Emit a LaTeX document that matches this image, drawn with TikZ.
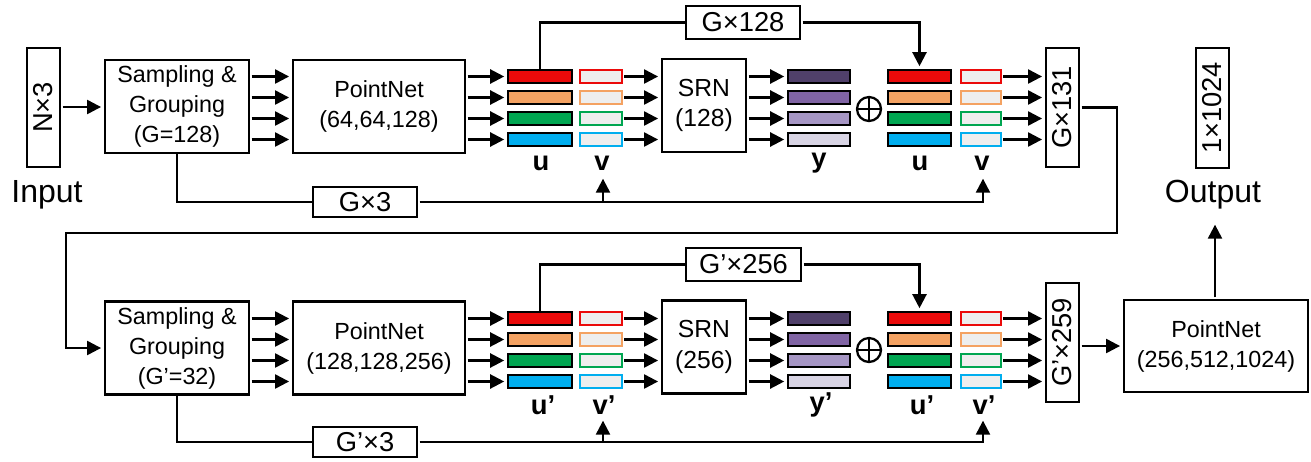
\documentclass[tikz,border=0pt]{standalone}
\usepackage{fontspec}
\setmainfont{Liberation Sans}
\usetikzlibrary{arrows.meta,calc}
\definecolor{cr}{RGB}{235,10,10}
\definecolor{co}{RGB}{244,162,98}
\definecolor{cg}{RGB}{0,166,81}
\definecolor{cb}{RGB}{0,174,239}
\definecolor{pa}{RGB}{80,64,106}
\definecolor{pb}{RGB}{128,100,164}
\definecolor{pc}{RGB}{166,150,196}
\definecolor{pd}{RGB}{216,212,228}
\definecolor{vfill}{RGB}{238,238,238}
\begin{document}
\begin{tikzpicture}[x=0.75pt,y=-0.75pt,
  box/.style={draw, line width=1.9pt, inner sep=0pt, align=center, fill=white,
    font=\fontsize{17.5}{22.5}\selectfont},
  dim/.style={draw, line width=1.9pt, inner sep=0pt, align=center, fill=white,
    font=\fontsize{20.5}{24}\selectfont},
  sz/.style 2 args={minimum width=#1*0.75pt, minimum height=#2*0.75pt},
  bar/.style={draw, line width=1.7pt, inner sep=0pt, minimum height=13*0.75pt},
  lbl/.style={inner sep=0pt, font=\fontsize{20.5}{22}\selectfont\bfseries},
  big/.style={inner sep=0pt, font=\fontsize{24}{26}\selectfont},
  ln/.style={line width=1.7pt},
  arr/.style={line width=1.7pt, -{Triangle[length=10.5pt,width=10.5pt]}, shorten >=2pt, shorten <=1pt},
  oplus/.style={circle, draw, line width=1.7pt, minimum size=24*0.75pt, inner sep=0pt,
    path picture={\draw[line width=1.7pt] (path picture bounding box.north) -- (path picture bounding box.south)
      (path picture bounding box.west) -- (path picture bounding box.east);}}
]
\useasboundingbox (0,0) rectangle (1311,461);

% ---------- top row ----------
\node[dim, sz={33}{119}] (n3) at (43.5,107.5) {\rotatebox{90}{N×3}};
\node[big] (inp) at (47,195) {Input};
\node[box, sz={144}{93}] (sg1) at (177,106.5) {Sampling \&\\Grouping\\(G=128)};
\node[box, sz={172}{93}] (pn1) at (379,106.5) {PointNet\\(64,64,128)};
\node[box, sz={84}{93}, font=\fontsize{18.5}{23}\selectfont] (srn1) at (704,105.5) {SRN\\(128)};
\node[dim, sz={33}{119}] (g131) at (1062.5,107.5) {\rotatebox{90}{G×131}};
\node[dim, sz={33}{120}] (o1024) at (1212.5,108) {\rotatebox{90}{1×1024}};
\node[big] (outl) at (1213,195) {Output};
\node[dim, sz={114}{33}] (g128) at (743,22.5) {G×128};
\node[dim, sz={104}{30}] (g3) at (365,202) {G×3};
\node[oplus] (op1) at (869,109) {};

% ---------- bottom row ----------
\node[box, sz={144}{93}] (sg2) at (177,348) {Sampling \&\\Grouping\\(G’=32)};
\node[box, sz={172}{93}] (pn2) at (379,348) {PointNet\\(128,128,256)};
\node[box, sz={84}{93}, font=\fontsize{18.5}{23}\selectfont] (srn2) at (704,347) {SRN\\(256)};
\node[dim, sz={33}{119}] (g259) at (1062.5,342.5) {\rotatebox{90}{G’×259}};
\node[box, sz={184}{92}] (pn3) at (1216,346) {PointNet\\(256,512,1024)};
\node[dim, sz={115}{33}] (g256) at (743.5,264.5) {G’×256};
\node[dim, sz={104}{30}] (g3b) at (365,442) {G’×3};
\node[oplus] (op2) at (869,350) {};

% ---------- bars and row arrows ----------
\foreach \i/\c/\p [evaluate=\i as \yt using 76.5+21*(\i-1), evaluate=\i as \yb using 318.5+21*(\i-1)]
  in {1/cr/pa,2/co/pb,3/cg/pc,4/cb/pd} {
  \node[bar, fill=\c, minimum width=64*0.75pt] (ua\i) at (540,\yt) {};
  \node[bar, fill=vfill, draw=\c, minimum width=42*0.75pt] (va\i) at (601,\yt) {};
  \node[bar, fill=\p, minimum width=62*0.75pt] (ya\i) at (819,\yt) {};
  \node[bar, fill=\c, minimum width=63*0.75pt] (ub\i) at (919.5,\yt) {};
  \node[bar, fill=vfill, draw=\c, minimum width=40*0.75pt] (vb\i) at (981,\yt) {};
  \node[bar, fill=\c, minimum width=64*0.75pt] (uc\i) at (540,\yb) {};
  \node[bar, fill=vfill, draw=\c, minimum width=42*0.75pt] (vc\i) at (601,\yb) {};
  \node[bar, fill=\p, minimum width=62*0.75pt] (yc\i) at (819,\yb) {};
  \node[bar, fill=\c, minimum width=63*0.75pt] (ud\i) at (919.5,\yb) {};
  \node[bar, fill=vfill, draw=\c, minimum width=40*0.75pt] (vd\i) at (981,\yb) {};
  \draw[arr] (sg1.east |- ua\i) -- (pn1.west |- ua\i);
  \draw[arr] (pn1.east |- ua\i) -- (ua\i.west);
  \draw[arr] (va\i.east) -- (srn1.west |- va\i);
  \draw[arr] (srn1.east |- ya\i) -- (ya\i.west);
  \draw[arr] (vb\i.east) -- (g131.west |- vb\i);
  \draw[arr] (sg2.east |- uc\i) -- (pn2.west |- uc\i);
  \draw[arr] (pn2.east |- uc\i) -- (uc\i.west);
  \draw[arr] (vc\i.east) -- (srn2.west |- vc\i);
  \draw[arr] (srn2.east |- yc\i) -- (yc\i.west);
  \draw[arr] (vd\i.east) -- (g259.west |- vd\i);
}

% ---------- labels ----------
\node[lbl] (lu1) at (541,163) {u};
\node[lbl] (lv1) at (602,163) {v};
\node[lbl] (ly1) at (819,163) {y};
\node[lbl] (lu2) at (920,163) {u};
\node[lbl] (lv2) at (982,163) {v};
\node[lbl] (lu3) at (543,405) {u’};
\node[lbl] (lv3) at (604,405) {v’};
\node[lbl] (ly3) at (821,405) {y’};
\node[lbl] (lu4) at (922,405) {u’};
\node[lbl] (lv4) at (984,405) {v’};

\coordinate (ta) at (603,176);
\coordinate (tb) at (983,176);
\coordinate (tc) at (603,418);
\coordinate (td) at (983,418);
\coordinate (tout) at (1215,222);

% ---------- connectors ----------
\draw[arr] (n3.east |- 0,107) -- (sg1.west |- 0,107);
\draw[ln] (ua1.north) |- (g128.west);
\draw[arr] (g128.east) -| (ub1.north);
\draw[ln] (sg1.south) |- (g3.west);
\draw[arr] (g3.east) -| (tb);
\draw[arr] (ta |- g3.east) -- (ta);
\draw[arr] (g131.east) -| (1117,233) -- (66,233) |- (sg2.west);

\draw[ln] (uc1.north) |- (g256.west);
\draw[arr] (g256.east) -| (ud1.north);
\draw[ln] (sg2.south) |- (g3b.west);
\draw[arr] (g3b.east) -| (td);
\draw[arr] (tc |- g3b.east) -- (tc);
\draw[arr] (g259.east |- pn3.west) -- (pn3.west);
\draw[arr] (pn3.north -| tout) -- (tout);
\end{tikzpicture}
\end{document}
